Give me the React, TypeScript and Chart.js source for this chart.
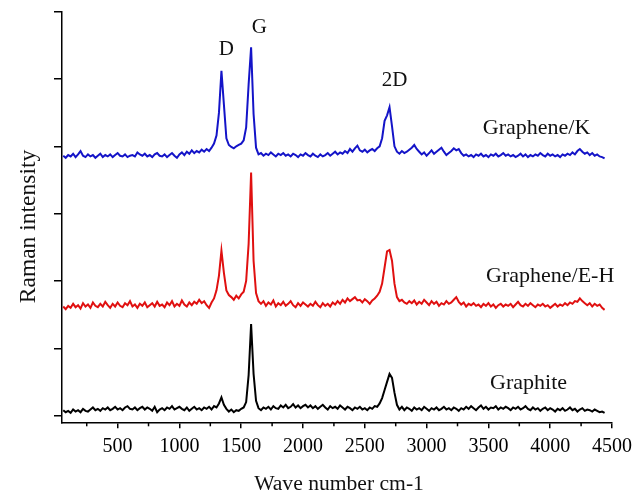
import { useEffect, useRef } from 'react';
import { Chart, registerables } from 'chart.js';

Chart.register(...registerables);

// Raman shift (cm-1)
const waveNumbers = [
  60, 80, 100, 120, 140, 160, 180, 200, 220, 240, 260, 280, 300, 320, 340, 360, 380, 400, 420, 440,
  460, 480, 500, 520, 540, 560, 580, 600, 620, 640, 660, 680, 700, 720, 740, 760, 780, 800, 820, 840,
  860, 880, 900, 920, 940, 960, 980, 1000, 1020, 1040, 1060, 1080, 1100, 1120, 1140, 1160, 1180, 1200, 1220, 1240,
  1260, 1280, 1300, 1320, 1340, 1360, 1380, 1400, 1420, 1440, 1460, 1480, 1500, 1520, 1540, 1560, 1580, 1600, 1620, 1640,
  1660, 1680, 1700, 1720, 1740, 1760, 1780, 1800, 1820, 1840, 1860, 1880, 1900, 1920, 1940, 1960, 1980, 2000, 2020, 2040,
  2060, 2080, 2100, 2120, 2140, 2160, 2180, 2200, 2220, 2240, 2260, 2280, 2300, 2320, 2340, 2360, 2380, 2400, 2420, 2440,
  2460, 2480, 2500, 2520, 2540, 2560, 2580, 2600, 2620, 2640, 2660, 2680, 2700, 2720, 2740, 2760, 2780, 2800, 2820, 2840,
  2860, 2880, 2900, 2920, 2940, 2960, 2980, 3000, 3020, 3040, 3060, 3080, 3100, 3120, 3140, 3160, 3180, 3200, 3220, 3240,
  3260, 3280, 3300, 3320, 3340, 3360, 3380, 3400, 3420, 3440, 3460, 3480, 3500, 3520, 3540, 3560, 3580, 3600, 3620, 3640,
  3660, 3680, 3700, 3720, 3740, 3760, 3780, 3800, 3820, 3840, 3860, 3880, 3900, 3920, 3940, 3960, 3980, 4000, 4020, 4040,
  4060, 4080, 4100, 4120, 4140, 4160, 4180, 4200, 4220, 4240, 4260, 4280, 4300, 4320, 4340, 4360, 4380, 4400, 4420, 4440,
];

// Graphite (offset 0)
const graphite = [
  0.08, 0.05, 0.07, 0.04, 0.09, 0.06, 0.08, 0.05, 0.10, 0.07, 0.06, 0.09, 0.12, 0.08, 0.10, 0.07, 0.11, 0.09, 0.12, 0.08,
  0.10, 0.13, 0.09, 0.11, 0.08, 0.12, 0.14, 0.10, 0.09, 0.12, 0.08, 0.11, 0.13, 0.09, 0.12, 0.10, 0.07, 0.13, 0.05, 0.09,
  0.11, 0.08, 0.12, 0.10, 0.14, 0.09, 0.11, 0.13, 0.10, 0.08, 0.12, 0.07, 0.10, 0.13, 0.09, 0.11, 0.08, 0.12, 0.10, 0.13,
  0.09, 0.14, 0.12, 0.18, 0.27, 0.16, 0.10, 0.06, 0.09, 0.05, 0.08, 0.07, 0.10, 0.12, 0.20, 0.60, 1.36, 0.62, 0.22, 0.11,
  0.08, 0.12, 0.10, 0.13, 0.09, 0.14, 0.11, 0.10, 0.15, 0.12, 0.16, 0.11, 0.13, 0.17, 0.12, 0.15, 0.11, 0.14, 0.16, 0.12,
  0.15, 0.11, 0.14, 0.10, 0.13, 0.16, 0.12, 0.09, 0.14, 0.11, 0.13, 0.10, 0.15, 0.12, 0.09, 0.13, 0.11, 0.08, 0.12, 0.10,
  0.13, 0.09, 0.11, 0.08, 0.12, 0.10, 0.14, 0.13, 0.18, 0.26, 0.38, 0.50, 0.62, 0.56, 0.34, 0.16, 0.09, 0.13, 0.08, 0.12,
  0.10, 0.07, 0.12, 0.09, 0.11, 0.08, 0.13, 0.10, 0.07, 0.11, 0.09, 0.12, 0.08, 0.10, 0.13, 0.09, 0.11, 0.08, 0.12, 0.10,
  0.07, 0.11, 0.09, 0.13, 0.10, 0.14, 0.11, 0.08, 0.12, 0.15, 0.10, 0.13, 0.09, 0.12, 0.11, 0.14, 0.09, 0.12, 0.10, 0.13,
  0.11, 0.08, 0.12, 0.10, 0.13, 0.09, 0.11, 0.14, 0.10, 0.08, 0.12, 0.09, 0.11, 0.07, 0.10, 0.12, 0.08, 0.11, 0.09, 0.06,
  0.10, 0.08, 0.11, 0.07, 0.09, 0.12, 0.08, 0.10, 0.06, 0.09, 0.11, 0.07, 0.09, 0.08, 0.06, 0.09, 0.07, 0.05, 0.06, 0.04,
];

// Graphene/E-H (offset ~1.6)
const grapheneEH = [
  1.62, 1.58, 1.63, 1.60, 1.66, 1.61, 1.64, 1.59, 1.67, 1.62, 1.65, 1.60, 1.68, 1.63, 1.61, 1.66, 1.62, 1.69, 1.64, 1.60,
  1.66, 1.62, 1.68, 1.63, 1.61, 1.67, 1.64, 1.70, 1.62, 1.65, 1.60, 1.66, 1.63, 1.68, 1.61, 1.64, 1.67, 1.62, 1.69, 1.63,
  1.65, 1.61, 1.68, 1.64, 1.70, 1.62, 1.66, 1.63, 1.71, 1.65, 1.62, 1.68, 1.64, 1.69, 1.66, 1.72, 1.67, 1.70, 1.64, 1.60,
  1.68, 1.74, 1.86, 2.08, 2.45, 2.12, 1.86, 1.79, 1.76, 1.72, 1.78, 1.74, 1.80, 1.84, 2.00, 2.55, 3.61, 2.30, 1.82, 1.70,
  1.66, 1.70, 1.63, 1.68, 1.65, 1.71, 1.62, 1.67, 1.64, 1.69, 1.63, 1.66, 1.70, 1.64, 1.61, 1.67, 1.63, 1.68, 1.65, 1.62,
  1.66, 1.63, 1.69, 1.64, 1.61, 1.67, 1.63, 1.66, 1.62, 1.68, 1.65, 1.70, 1.66, 1.72, 1.68, 1.74, 1.70, 1.73, 1.76, 1.71,
  1.72, 1.68, 1.73, 1.70, 1.66, 1.71, 1.74, 1.78, 1.84, 1.96, 2.20, 2.44, 2.46, 2.30, 1.96, 1.76, 1.70, 1.72, 1.68, 1.66,
  1.70, 1.67, 1.71, 1.65, 1.69, 1.66, 1.72, 1.68, 1.64, 1.70, 1.66, 1.69, 1.63, 1.67, 1.65, 1.70, 1.66, 1.68, 1.72, 1.76,
  1.69, 1.65, 1.68, 1.62, 1.66, 1.64, 1.67, 1.63, 1.65, 1.61, 1.66, 1.63, 1.67, 1.62, 1.65, 1.60, 1.64, 1.66, 1.62, 1.65,
  1.63, 1.66, 1.61, 1.65, 1.69, 1.64, 1.62, 1.66, 1.63, 1.67, 1.64, 1.61, 1.65, 1.63, 1.66, 1.62, 1.64, 1.60, 1.63, 1.66,
  1.62, 1.65, 1.63, 1.67, 1.64, 1.68, 1.66, 1.70, 1.69, 1.74, 1.70, 1.67, 1.64, 1.67, 1.62, 1.66, 1.63, 1.65, 1.60, 1.57,
];

// Graphene/K (offset ~3.9)
const grapheneK = [
  3.86, 3.83, 3.87, 3.85, 3.89, 3.84, 3.88, 3.93, 3.86, 3.84, 3.88, 3.85, 3.87, 3.83, 3.86, 3.89, 3.84, 3.87, 3.85, 3.88,
  3.84, 3.87, 3.90, 3.86, 3.85, 3.88, 3.84, 3.86, 3.87, 3.85, 3.91, 3.88, 3.86, 3.89, 3.85, 3.87, 3.84, 3.88, 3.90, 3.86,
  3.85, 3.88, 3.84, 3.87, 3.90, 3.86, 3.83, 3.88, 3.91, 3.87, 3.92, 3.89, 3.94, 3.90, 3.93, 3.91, 3.95, 3.92, 3.96, 3.93,
  3.98, 4.04, 4.16, 4.50, 5.12, 4.62, 4.12, 4.02, 3.99, 3.97, 4.00, 4.02, 4.04, 4.09, 4.28, 4.92, 5.47, 4.48, 3.98, 3.88,
  3.90, 3.86, 3.89, 3.87, 3.91, 3.88, 3.85, 3.89, 3.87, 3.90, 3.86, 3.88, 3.85, 3.89, 3.87, 3.84, 3.88, 3.86, 3.90, 3.87,
  3.85, 3.89, 3.86, 3.84, 3.88, 3.85, 3.87, 3.90, 3.86, 3.89, 3.92, 3.88, 3.91, 3.89, 3.93, 3.90, 3.96, 3.92, 3.97, 4.01,
  3.94, 3.92, 3.95, 3.91, 3.94, 3.96, 3.93, 3.97, 4.00, 4.12, 4.38, 4.46, 4.58, 4.30, 4.00, 3.92, 3.89, 3.93, 3.90, 3.92,
  3.95, 3.98, 4.02, 3.96, 3.92, 3.88, 3.91, 3.86, 3.90, 3.94, 3.89, 3.92, 3.95, 3.98, 3.92, 3.87, 3.90, 3.93, 3.97, 3.94,
  3.96, 3.90, 3.86, 3.88, 3.85, 3.87, 3.84, 3.88, 3.86, 3.89, 3.85, 3.87, 3.84, 3.88, 3.86, 3.89, 3.85, 3.87, 3.90, 3.86,
  3.88, 3.85, 3.87, 3.84, 3.86, 3.89, 3.85, 3.88, 3.84, 3.87, 3.85, 3.88, 3.86, 3.90, 3.87, 3.85, 3.89, 3.86, 3.88, 3.85,
  3.87, 3.84, 3.88, 3.86, 3.89, 3.87, 3.91, 3.88, 3.93, 3.96, 3.92, 3.89, 3.91, 3.87, 3.90, 3.86, 3.88, 3.85, 3.84, 3.82,
];

const xTickValues = [500, 1000, 1500, 2000, 2500, 3000, 3500, 4000, 4500];
const xMinorTickValues = [250, 750, 1250, 1750, 2250, 2750, 3250, 3750, 4250];
const yTickValues = [0, 1, 2, 3, 4, 5, 6];

const peakLabels = ['D', 'G', '2D'];
const peakLabelX = [1380, 1647, 2740];
const peakLabelY = [5.36, 5.68, 4.89];

const seriesNames = ['Graphene/K', 'Graphene/E-H', 'Graphite'];
const seriesLabelX = [3890, 4000, 3825];
const seriesLabelY = [4.19, 1.99, 0.39];

const FONT = '"Liberation Serif", "Times New Roman", serif';

const annotationPlugin = {
  id: 'annotations',
  afterDraw(chart: any) {
    const { ctx, chartArea, scales } = chart;
    const xs = scales.x;
    const ys = scales.y;
    ctx.save();
    ctx.fillStyle = '#111';
    ctx.textAlign = 'center';
    ctx.textBaseline = 'alphabetic';
    ctx.font = `21px ${FONT}`;
    peakLabels.forEach((t, i) => {
      ctx.fillText(t, xs.getPixelForValue(peakLabelX[i]), ys.getPixelForValue(peakLabelY[i]));
    });
    ctx.font = `22px ${FONT}`;
    seriesNames.forEach((t, i) => {
      ctx.fillText(t, xs.getPixelForValue(seriesLabelX[i]), ys.getPixelForValue(seriesLabelY[i]));
    });
    // minor ticks on x axis
    ctx.strokeStyle = '#000';
    ctx.lineWidth = 1.5;
    xMinorTickValues.forEach((v) => {
      const px = xs.getPixelForValue(v);
      ctx.beginPath();
      ctx.moveTo(px, chartArea.bottom);
      ctx.lineTo(px, chartArea.bottom + 4);
      ctx.stroke();
    });
    // axis titles
    ctx.font = `21.6px ${FONT}`;
    ctx.fillText('Wave number cm-1', (chartArea.left + chartArea.right) / 2 + 2, 490);
    ctx.translate(35, 226.5);
    ctx.rotate(-Math.PI / 2);
    ctx.font = `23.5px ${FONT}`;
    ctx.fillText('Raman intensity', 0, 0);
    ctx.restore();
  },
};

export default function App() {
  const canvasRef = useRef<HTMLCanvasElement | null>(null);

  useEffect(() => {
    if (!canvasRef.current) return;
    const mk = (ys: number[], color: string) => ({
      data: waveNumbers.map((x, i) => ({ x, y: ys[i] })),
      borderColor: color,
      backgroundColor: color,
      borderWidth: 2,
      pointRadius: 0,
      tension: 0,
      fill: false,
    });
    const chart = new Chart(canvasRef.current, {
      type: 'line',
      data: {
        datasets: [
          { label: 'Graphene/K', ...mk(grapheneK, '#1414c8') },
          { label: 'Graphene/E-H', ...mk(grapheneEH, '#e01010') },
          { label: 'Graphite', ...mk(graphite, '#000000') },
        ],
      },
      options: {
        responsive: false,
        animation: false,
        events: [],
        layout: { padding: { left: 54, right: 20.5, top: 11.7, bottom: 29.7 } },
        plugins: { legend: { display: false }, tooltip: { enabled: false } },
        scales: {
          x: {
            type: 'linear',
            min: 50,
            max: 4500,
            afterBuildTicks: (s: any) => {
              s.ticks = xTickValues.map((v) => ({ value: v }));
            },
            grid: { drawOnChartArea: false, drawTicks: true, tickLength: 6, color: '#000', lineWidth: 1.5 },
            border: { display: true, color: '#000', width: 1.5 },
            ticks: {
              color: '#000',
              font: { family: FONT, size: 20 },
              padding: 6,
              maxRotation: 0,
              autoSkip: false,
              callback: (v: any) => String(v),
            },
          },
          y: {
            type: 'linear',
            min: -0.1,
            max: 6,
            afterBuildTicks: (s: any) => {
              s.ticks = yTickValues.map((v) => ({ value: v }));
            },
            grid: { drawOnChartArea: false, drawTicks: true, tickLength: 8, color: '#000', lineWidth: 1.5 },
            border: { display: true, color: '#000', width: 1.5 },
            ticks: { display: false },
          },
        },
      },
      plugins: [annotationPlugin],
    });
    return () => chart.destroy();
  }, []);

  return (
    <div style={{ position: 'absolute', left: 0, top: 0, width: 638, height: 494, background: '#fff' }}>
      <canvas ref={canvasRef} width={638} height={494} style={{ display: 'block' }} />
    </div>
  );
}
